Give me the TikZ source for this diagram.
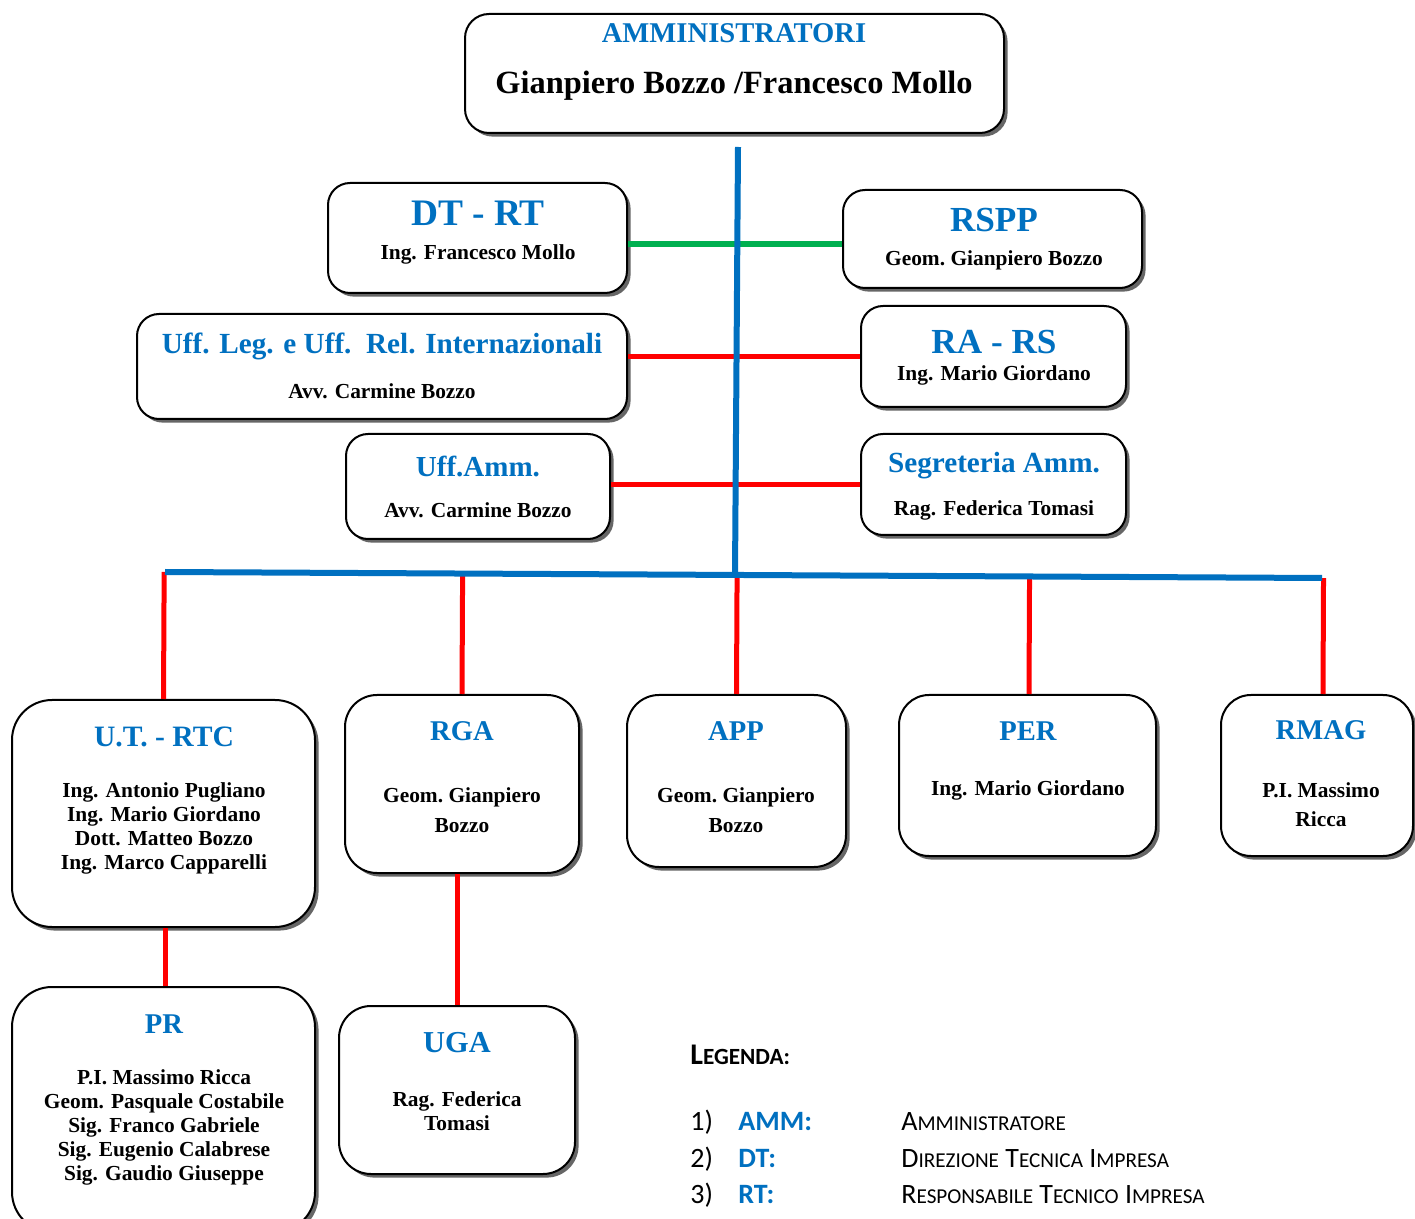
\documentclass[tikz,border=0pt]{standalone}
\usepackage{fontspec}
\setmainfont{Liberation Serif}
\newfontfamily\garfont{Liberation Serif}
\newfontfamily\legfont{Carlito}
\usetikzlibrary{shadows,calc}
\definecolor{tblue}{RGB}{0,112,192}
\definecolor{tgreen}{RGB}{0,176,80}
\definecolor{tred}{RGB}{255,0,0}
\newcommand\fsc[2]{{\fontsize{14}{16}\selectfont #1}{\fontsize{10.6}{14}\selectfont #2}}
\begin{document}
\begin{tikzpicture}[x=0.5pt,y=-0.5pt,
 box/.style={draw=black, line width=1pt, fill=white, rounded corners=11pt,
   general shadow={fill=black!60, shadow xshift=1.8pt, shadow yshift=-1.8pt}, inner sep=0pt},
 ttl/.style={text=tblue, font=\garfont\bfseries\fontsize{#1}{#1}\selectfont, inner sep=0pt},
 sub/.style={text=black, font=\garfont\bfseries\fontsize{10.7}{#1}\selectfont, inner sep=0pt, align=center},
 leg/.style={font=\legfont\fontsize{14}{16}\selectfont, inner sep=0pt},
 bline/.style={draw=tblue, line width=3pt},
 rline/.style={draw=tred, line width=2.5pt},
 gline/.style={draw=tgreen, line width=3pt}]
\clip (0,0) rectangle (1415,1219);
\fill[white] (0,0) rectangle (1415,1219);
% boxes
\node[box, minimum width=269.5pt, minimum height=59.5pt, rounded corners=12pt] (adm) at (734.5,73.5) {};
\node[box, minimum width=149.5pt, minimum height=55pt] (dtrt) at (477.5,238) {};
\node[box, minimum width=149.5pt, minimum height=49pt] (rspp) at (992.5,239) {};
\node[box, minimum width=245pt, minimum height=52.5pt] (uffleg) at (382,366.5) {};
\node[box, minimum width=132.5pt, minimum height=50.5pt] (rars) at (993.5,356.5) {};
\node[box, minimum width=132pt, minimum height=52.5pt] (uffamm) at (478,486.5) {};
\node[box, minimum width=132.5pt, minimum height=50.5pt] (segr) at (993.5,484.5) {};
\node[box, minimum width=151.5pt, minimum height=113.5pt, rounded corners=20pt] (ut) at (163.5,813.5) {};
\node[box, minimum width=117pt, minimum height=89pt, rounded corners=16pt] (rga) at (462,784) {};
\node[box, minimum width=109.5pt, minimum height=86pt, rounded corners=16pt] (app) at (736.5,781) {};
\node[box, minimum width=128.5pt, minimum height=80.5pt, rounded corners=15pt] (per) at (1027.5,775.5) {};
\node[box, minimum width=96pt, minimum height=80.5pt, rounded corners=15pt] (rmag) at (1317,775.5) {};
\node[box, minimum width=151.5pt, minimum height=122.5pt, rounded corners=20pt] (pr) at (163.5,1109.5) {};
\node[box, minimum width=118pt, minimum height=84pt, rounded corners=16pt] (uga) at (457,1090) {};
% connectors
\coordinate (top) at (738,147);
\coordinate (bot) at (735,576);
\coordinate (busL) at (165,572);
\coordinate (busR) at (1322,578);
\coordinate (g) at (0,244);
\draw[gline] (dtrt.east |- g) -- (rspp.west |- g);
\draw[rline] (uffleg.east |- rars.west) -- (rars.west);
\draw[rline] (uffamm.east |- segr.west) -- (segr.west);
\draw[rline] ($(busL)!(ut.north)!(busR)$) -- (ut.north);
\draw[rline] ($(busL)!(rga.north)!(busR)$) -- (rga.north);
\draw[rline] ($(busL)!(app.north)!(busR)$) -- (app.north);
\draw[rline] ($(busL)!([xshift=0.75pt]per.north)!(busR)$) -- ([xshift=0.75pt]per.north);
\draw[rline] ($(busL)!([xshift=3pt]rmag.north)!(busR)$) -- ([xshift=3pt]rmag.north);
\draw[rline] ([xshift=1pt]ut.south) -- ([xshift=1pt]pr.north);
\draw[rline] (rga.south -| uga.north) -- (uga.north);
\draw[bline] (busL) -- (busR);
\draw[bline] (top) -- (bot);
% texts
\node[ttl=14.3] (t-adm) at (734,33) {AMMINISTRATORI};
\node[text=black, font=\garfont\bfseries\fontsize{16.2}{18}\selectfont, inner sep=0pt] (s-adm) at (734,86) {Gianpiero Bozzo /Francesco Mollo};
\node[ttl=18.7] (t-dtrt) at (478,213) {DT - RT};
\node[sub=12] (s-dtrt) at (478,254) {Ing. Francesco Mollo};
\node[ttl=17.6] (t-rspp) at (994,220) {RSPP};
\node[sub=12] (s-rspp) at (994,260) {Geom.\ Gianpiero Bozzo};
\node[ttl=14.6] (t-uffleg) at (382,346) {Uff. Leg. e Uff.\ \ Rel. Internazionali};
\node[sub=12] (s-uffleg) at (382,391) {Avv. Carmine Bozzo};
\node[ttl=17.6] (t-rars) at (994,342) {RA - RS};
\node[sub=12] (s-rars) at (994,375) {Ing. Mario Giordano};
\node[ttl=14.5] (t-uffamm) at (478,466) {Uff.Amm.};
\node[sub=12] (s-uffamm) at (478,510) {Avv. Carmine Bozzo};
\node[ttl=14.6] (t-segr) at (994,466) {Segreteria Amm.};
\node[sub=12] (s-segr) at (994,510) {Rag. Federica Tomasi};
\node[ttl=14.8] (t-ut) at (164,737) {U.T. - RTC};
\node[sub=12] (s-ut) at (164,828) {Ing. Antonio Pugliano\\Ing. Mario Giordano\\Dott. Matteo Bozzo\\Ing. Marco Capparelli};
\node[ttl=14.3] (t-rga) at (462,731) {RGA};
\node[sub=15] (s-rga) at (462,810) {Geom.\ Gianpiero\\Bozzo};
\node[ttl=14.3] (t-app) at (736,731) {APP};
\node[sub=15] (s-app) at (736,810) {Geom.\ Gianpiero\\Bozzo};
\node[ttl=14.3] (t-per) at (1028,731) {PER};
\node[sub=12] (s-per) at (1028,790) {Ing. Mario Giordano};
\node[ttl=14.3] (t-rmag) at (1321,730) {RMAG};
\node[sub=14.5] (s-rmag) at (1321,804.5) {P.I. Massimo\\Ricca};
\node[ttl=14.3] (t-pr) at (164,1024) {PR};
\node[sub=12] (s-pr) at (164,1127) {P.I. Massimo Ricca\\Geom. Pasquale Costabile\\Sig. Franco Gabriele\\Sig. Eugenio Calabrese\\Sig. Gaudio Giuseppe};
\node[ttl=15.2] (t-uga) at (457,1043) {UGA};
\node[sub=12] (s-uga) at (457,1111) {Rag. Federica\\Tomasi};
% legend
\node[leg, anchor=base west] (lg) at (690,1064) {\bfseries{\fontsize{15}{16}\selectfont L}{\fontsize{11.6}{14}\selectfont EGENDA:}};
\node[leg, anchor=base west] (n1) at (690,1130) {1)};
\node[leg, anchor=base west, text=tblue] (k1) at (738,1130) {\bfseries AMM:};
\node[leg, anchor=base west] (d1) at (901,1130) {\fsc{A}{MMINISTRATORE}};
\node[leg, anchor=base west] (n2) at (690,1167) {2)};
\node[leg, anchor=base west, text=tblue] (k2) at (738,1167) {\bfseries DT:};
\node[leg, anchor=base west] (d2) at (901,1167) {\fsc{D}{IREZIONE} \fsc{T}{ECNICA} \fsc{I}{MPRESA}};
\node[leg, anchor=base west] (n3) at (690,1203) {3)};
\node[leg, anchor=base west, text=tblue] (k3) at (738,1203) {\bfseries RT:};
\node[leg, anchor=base west] (d3) at (901,1203) {\fsc{R}{ESPONSABILE} \fsc{T}{ECNICO} \fsc{I}{MPRESA}};
\end{tikzpicture}
\end{document}
